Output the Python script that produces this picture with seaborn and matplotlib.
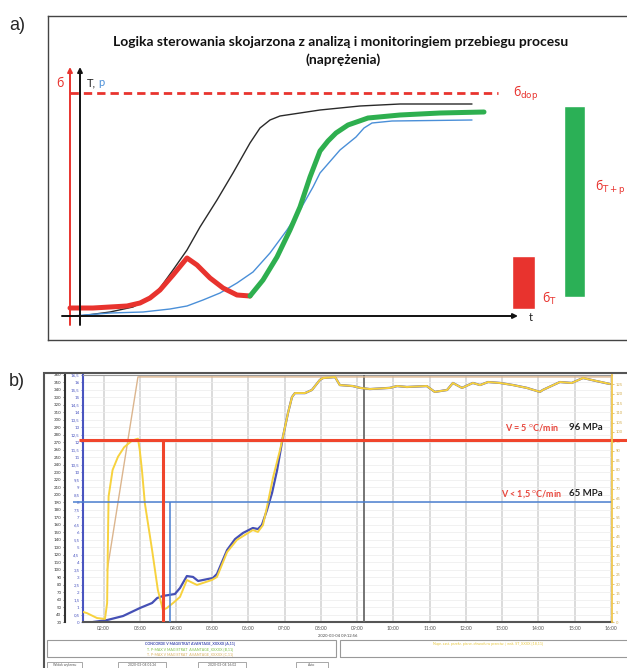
import numpy as np
import matplotlib
matplotlib.use("Agg")
import matplotlib.pyplot as plt
import seaborn as sns
from matplotlib.patches import Rectangle

# ---- panel a) schematic (t in arbitrary units, values in % of scale)
t_T = [0, 7.5, 13.25, 17.5, 20, 23.25, 26.75, 30, 34.25, 38.25, 42.5, 45, 47.5, 50, 55, 60, 70, 80, 98]
T_vals = [0, 1.6, 3.6, 7.2, 11.2, 18.4, 26.4, 35.6, 46.4, 57.2, 69.2, 75.2, 78.4, 80, 81.2, 82.4, 84, 84.8, 84.8]

t_p = [-2, 7.5, 15.75, 22.5, 26.75, 30.75, 35, 39.25, 43.25, 47.5, 51.75, 55, 58.25, 60, 65, 69, 71, 73, 78, 98]
p_vals = [0, 1.2, 1.6, 2.8, 4, 6.4, 9.2, 13.2, 17.6, 25.2, 34.4, 42.4, 51.6, 57.2, 66.4, 71.6, 75.2, 77.2, 78, 78.4]

t_sigT = [-2.5, 3.25, 11.75, 15, 17.5, 20, 23.25, 26.75, 29.25, 32.5, 35.75, 39.25, 42.5]
sigT_vals = [3.2, 3.2, 4, 5.2, 7.2, 10.4, 16.4, 23.2, 20.4, 15.2, 11.2, 8.4, 8]

t_sigTp = [42.5, 45.75, 49.25, 52.5, 55, 57.5, 60, 62, 64, 67, 72, 80, 90, 101]
sigTp_vals = [8, 14.4, 23.6, 34.4, 43.6, 55.6, 66, 70, 73.2, 76.4, 79.2, 80.4, 81.2, 81.6]

sig_dop = 89.2
bar_pos = [110.9, 123.6]
bar_width = [5.75, 5.25]
bar_low = [2.8, 7.6]
bar_high = [24, 84]

# ---- panel b) process record (hours)
hours_s = [1.43, 1.54, 1.82, 2.04, 2.10, 2.12, 2.14, 2.25, 2.4, 2.57, 2.79, 2.95, 3.0, 3.06, 3.14, 3.34,
           3.5, 3.64, 3.75, 3.92, 4.11, 4.30, 4.47, 4.58, 4.99, 5.13, 5.41, 5.68, 6.12, 6.26, 6.40, 6.51,
           6.68, 6.87, 6.95, 7.09, 7.20, 7.28, 7.37, 7.56, 7.75, 7.97, 8.06, 8.39, 8.52, 8.88, 9.08, 9.35,
           9.90, 10.10, 10.37, 10.92, 11.14, 11.48, 11.64, 11.89, 12.19, 12.39, 12.61, 12.94, 13.30,
           13.68, 14.04, 14.12, 14.59, 14.92, 15.23, 15.61, 15.97]
stress = [5.3, 4.7, 2.1, 1.6, 10, 40, 66, 80, 87, 92, 95.5, 96.5, 90.5, 80, 62.6, 37.9,
          16.8, 6.3, 7.4, 10, 13.2, 22.1, 20.5, 19.5, 22.1, 23.7, 36.8, 43.2, 48.4, 47.4, 51, 60.5,
          76.3, 90.5, 97.4, 110, 118.4, 120.5, 120.5, 120.5, 122.1, 127.4, 128.4, 128.9, 124.7, 124.2, 123.2, 122.6,
          123.2, 124.2, 123.7, 124.2, 121.1, 122.1, 125.8, 123.2, 125.8, 124.7, 126.3, 125.8, 124.7,
          123.2, 121.1, 122.1, 126.3, 125.8, 128.4, 126.8, 125.3]

hours_p = [1.71, 2.10, 2.54, 3.01, 3.34, 3.48, 3.64, 3.97, 4.11, 4.30, 4.47, 4.61, 5.02, 5.13, 5.41, 5.63,
           5.85, 6.12, 6.26, 6.37, 6.51, 6.65, 6.79,
           6.95, 7.09, 7.20, 7.28, 7.37, 7.56, 7.75, 7.97, 8.06, 8.39, 8.52, 8.88, 9.08, 9.35,
           9.90, 10.10, 10.37, 10.92, 11.14, 11.48, 11.64, 11.89, 12.19, 12.39, 12.61, 12.94, 13.30,
           13.68, 14.04, 14.12, 14.59, 14.92, 15.23, 15.61, 15.97]
pressure = [0, 0.13, 0.40, 0.94, 1.27, 1.60, 1.74, 1.87, 2.27, 3.07, 3.01, 2.74, 2.94, 3.21, 4.81, 5.54,
            5.95, 6.28, 6.21, 6.48, 7.48, 8.62, 10.15,
            12.36, 13.96, 15.03, 15.29, 15.29, 15.29, 15.50, 16.17, 16.30, 16.36, 15.83, 15.76, 15.64, 15.56,
            15.64, 15.76, 15.70, 15.76, 15.37, 15.50, 15.97, 15.64, 15.97, 15.83, 16.03, 15.97, 15.83,
            15.64, 15.37, 15.50, 16.03, 15.97, 16.30, 16.09, 15.90]

hours_set = [2.10, 2.95, 16.03]
setpoint = [27, 129, 129]

sig_hi, sig_lo = 96, 63
t_hi, t_lo, t_cursor = 3.64, 3.83, 9.19
hour_ticks = list(range(2, 17))

sns.set_style("white")
plt.rcParams['font.family'] = ['Lato', 'DejaVu Sans']

W, H = 627, 668


def px_box(l, t, r, b):
    return [l / W, 1 - b / H, (r - l) / W, (b - t) / H]


fig = plt.figure(figsize=(W / 100, H / 100), dpi=100)

# ===== a)
ax_a = fig.add_axes(px_box(48, 16, 627, 340))
ax_a.set_xlim(-8, 136.75)
ax_a.set_ylim(-9.6, 120)
ax_a.set_xticks([])
ax_a.set_yticks([])
for s in ['left', 'top', 'bottom']:
    ax_a.spines[s].set_color('#444')
    ax_a.spines[s].set_linewidth(1.0)
ax_a.spines['right'].set_visible(False)

red = '#e8332e'
arrow_k = dict(arrowstyle='-|>', color='#111', lw=1.4, mutation_scale=7, shrinkA=0, shrinkB=0)
arrow_r = dict(arrowstyle='-|>', color=red, lw=1.4, mutation_scale=7, shrinkA=0, shrinkB=0)
ax_a.annotate('', xy=(-2.5, 99.6), xytext=(-2.5, -3.6), arrowprops=arrow_r)
ax_a.annotate('', xy=(0, 99.6), xytext=(0, -3.6), arrowprops=arrow_k)
ax_a.annotate('', xy=(109.5, 0), xytext=(-4.5, 0), arrowprops=arrow_k)

ax_a.hlines(sig_dop, -2.5, 104.5, color=red, lw=2.0, linestyles=(0, (3, 1.8)))

sns.lineplot(x=t_T, y=T_vals, ax=ax_a, color='#2a2a2a', lw=1.0, sort=False)
sns.lineplot(x=t_p, y=p_vals, ax=ax_a, color='#4a8fd8', lw=1.0, sort=False)
sns.lineplot(x=t_sigT, y=sigT_vals, ax=ax_a, color=red, lw=3.6, sort=False,
             solid_capstyle='round', solid_joinstyle='round')
sns.lineplot(x=t_sigTp, y=sigTp_vals, ax=ax_a, color='#2eaf4f', lw=3.6, sort=False,
             solid_capstyle='round', solid_joinstyle='round')

ax_a.bar(bar_pos, np.array(bar_high) - np.array(bar_low), bottom=bar_low, width=bar_width,
         color=[red, '#2bb056'], align='center')

ax_a.text(65.25, 109.6, "Logika sterowania skojarzona z analizą i monitoringiem przebiegu procesu",
          ha='center', va='center', fontsize=10, fontweight='bold', color='#111')
ax_a.text(65.75, 102.6, "(naprężenia)", ha='center', va='center', fontsize=10, fontweight='bold', color='#111')

ax_a.text(-5, 93.2, "б", color=red, ha='center', va='center', fontsize=9)
ax_a.text(1.8, 93.2, "T,", color='#222', ha='left', va='center', fontsize=8)
ax_a.text(4.6, 93.2, "p", color='#4a8fd8', ha='left', va='center', fontsize=8)
ax_a.text(108.3, 88.8, r"б$_{\mathrm{dop}}$", color=red, ha='left', va='center', fontsize=9)
ax_a.text(115.5, 7.2, r"б$_{\mathrm{T}}$", color=red, ha='left', va='center', fontsize=9)
ax_a.text(128.7, 51.2, r"б$_{\mathrm{T+p}}$", color=red, ha='left', va='center', fontsize=9)
ax_a.text(112.8, -0.6, "t", color='#222', ha='center', va='center', fontsize=8)

fig.text(9 / W, 1 - 26 / H, "a)", fontsize=13, ha='left', va='center', family='Liberation Sans')
fig.text(9 / W, 1 - 382 / H, "b)", fontsize=13, ha='left', va='center', family='Liberation Sans')

# ===== b)
fig.patches.append(Rectangle((44 / W, 1 - 720 / H), 620 / W, (720 - 373) / H, transform=fig.transFigure,
                             fill=False, ec='#555', lw=1.5))

ax_b = fig.add_axes(px_box(83, 375, 612, 622))
ax_b.set_xlim(1.434, 16.03)
ax_b.set_ylim(0, 16.5)
ax_b.set_yticks(np.arange(0, 16.51, 0.5))
ax_b.set_yticklabels([f"{v:g}".replace('.', ',') for v in np.arange(0, 16.51, 0.5)])
ax_b.set_xticks(hour_ticks)
ax_b.set_xticklabels([f"{h:02d}:00" for h in hour_ticks])
ax_b.grid(True, axis='x', color='#d2d2d2', lw=1.1)
ax_b.grid(True, axis='y', color='#ebebeb', lw=0.5)
ax_b.tick_params(axis='y', colors='#4a55c0', labelsize=3.2, length=1.5, width=0.5, pad=1)
ax_b.tick_params(axis='x', colors='#555', labelsize=3.6, length=0, pad=3)
ax_b.spines['left'].set_color('#4a55c0')
ax_b.spines['left'].set_linewidth(1.5)
ax_b.spines['bottom'].set_color('#555')
ax_b.spines['bottom'].set_linewidth(1.5)
ax_b.spines['top'].set_color('#999')
ax_b.spines['right'].set_visible(False)

sns.lineplot(x=hours_p, y=pressure, ax=ax_b, color='#4550b5', lw=1.6, sort=False)

ax_r = ax_b.twinx()
ax_r.set_ylim(0, 130)
ax_r.set_yticks(range(0, 126, 5))
ax_r.tick_params(axis='y', colors='#d2ac4a', labelsize=3.0, length=1.5, width=0.5, pad=1)
ax_r.spines['right'].set_color('#f1c84e')
ax_r.spines['right'].set_linewidth(1.3)
for s in ['left', 'top', 'bottom']:
    ax_r.spines[s].set_visible(False)

ax_r.axvline(t_cursor, color='#6a6a6a', lw=1.3, zorder=1)
sns.lineplot(x=hours_set, y=setpoint, ax=ax_r, color='#dbb58e', lw=1.0, sort=False)
sns.lineplot(x=hours_s, y=stress, ax=ax_r, color='#f7d23e', lw=1.4, sort=False)

ax_r.hlines(sig_hi, -0.0076, 1.028, transform=ax_r.get_yaxis_transform(), color='#f0452c', lw=2.2,
            clip_on=False)
ax_r.hlines(sig_lo, -0.019, 1.0, transform=ax_r.get_yaxis_transform(), color='#4a7fd0', lw=1.1,
            clip_on=False)
ax_r.vlines(t_hi, 0, sig_hi, color='#f0452c', lw=2.2)
ax_r.vlines(t_lo, 0, sig_lo, color='#4a7fd0', lw=1.1)

ax_r.text(13.82, 102.6, r"V = 5 $^{\mathrm{o}}$C/min", color='#e8463c', ha='center', va='center',
          fontsize=6.5, fontweight='bold')
ax_r.text(15.31, 102.6, "96 MPa", color='#222', ha='center', va='center', fontsize=7, fontweight='bold')
ax_r.text(13.82, 67.4, r"V < 1,5 $^{\mathrm{o}}$C/min", color='#e8463c', ha='center', va='center',
          fontsize=6.5, fontweight='bold')
ax_r.text(15.31, 67.4, "65 MPa", color='#222', ha='center', va='center', fontsize=7, fontweight='bold')

ax_k = ax_b.twinx()
ax_k.set_ylim(30, 360)
ax_k.set_yticks(range(30, 361, 10))
ax_k.yaxis.tick_left()
ax_k.spines['left'].set_position(('axes', -(83 - 65) / 529))
ax_k.spines['left'].set_color('#333')
ax_k.spines['left'].set_linewidth(1.5)
for s in ['right', 'top', 'bottom']:
    ax_k.spines[s].set_visible(False)
ax_k.tick_params(axis='y', colors='#333', labelsize=3.2, length=1.5, width=0.5, pad=1)

# date stamp and legend boxes under the chart
fig.text(338 / W, 1 - 636 / H, "2020-03-04 09:12:56", fontsize=3, ha='center', va='center', color='#444')
fig.patches.append(Rectangle((47 / W, 1 - 657 / H), 289 / W, 17 / H, transform=fig.transFigure,
                             fill=False, ec='#999', lw=0.8))
fig.patches.append(Rectangle((340 / W, 1 - 657 / H), 300 / W, 17 / H, transform=fig.transFigure,
                             fill=False, ec='#999', lw=0.8))
fig.text(190 / W, 1 - 644 / H, "CONCORDE V MAGISTRAT AVANTAGE_XXXXX [A,11]", fontsize=2.6,
         ha='center', va='center', color='#3b48b0', fontweight='bold')
fig.text(190 / W, 1 - 649 / H, "T. P-MAX V MAGISTRAT  AVANTAGE_XXXXX [B,11]", fontsize=2.6,
         ha='center', va='center', color='#7ac043')
fig.text(190 / W, 1 - 654 / H, "T. P-MAX V MAGISTRAT  AVANTAGE_XXXXX [C,11]", fontsize=2.6,
         ha='center', va='center', color='#d8b060')
fig.text(488 / W, 1 - 644 / H, "Napr. zast. przekr. pierw. obwodu w przeciw. | wsk. ST_XXXX [18,11]",
         fontsize=2.6, ha='center', va='center', color='#e8c840')

# control bar
for l, r_, lab in [(47, 82, "Widok wykresu"), (118, 166, "2020-03-04 01:26"), (198, 246, "2020-03-04 16:02"),
                   (296, 328, "Auto")]:
    fig.patches.append(Rectangle((l / W, 1 - 668 / H), (r_ - l) / W, 6 / H, transform=fig.transFigure,
                                 fill=False, ec='#999', lw=0.6))
    fig.text((l + r_) / 2 / W, 1 - 665 / H, lab, fontsize=2.4, ha='center', va='center', color='#555')

fig.savefig("out.png", dpi=100)
